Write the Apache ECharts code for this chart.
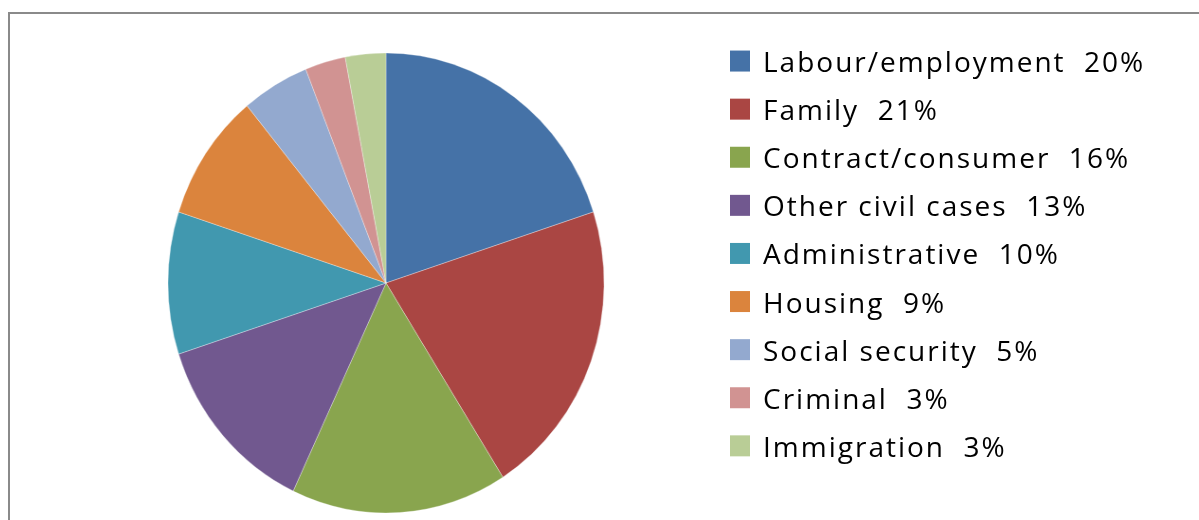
<!DOCTYPE html>
<html>
<head>
<meta charset="utf-8">
<script src="https://cdn.jsdelivr.net/npm/echarts@6/dist/echarts.min.js"></script>
<style>
  html, body { margin: 0; padding: 0; background: #ffffff; }
  #wrap { position: relative; width: 1199px; height: 520px; overflow: hidden; }
  #pie, #legend { position: absolute; left: 0; top: 0; width: 1199px; height: 520px; }
  /* the pie is drawn slightly narrower than tall */
  #pie { transform: scaleX(0.948); transform-origin: 386px 283px; }
  /* loose tracking on the legend labels */
  #legend svg text { letter-spacing: 2px; }
</style>
</head>
<body>
<div id="wrap">
  <div id="pie"></div>
  <div id="legend"></div>
</div>
<script>
// Share of cases by area of law (percent)
const categories = [
  'Labour/employment', 'Family', 'Contract/consumer', 'Other civil cases',
  'Administrative', 'Housing', 'Social security', 'Criminal', 'Immigration'
];
const shares = [20, 21, 16, 13, 10, 9, 5, 3, 3];
const palette = [
  '#4572A7', '#AA4643', '#89A54E', '#71588F', '#4198AF',
  '#DB843D', '#93A9CF', '#D19392', '#B9CD96'
];

const seriesData = categories.map((name, i) => ({ name: name, value: shares[i] }));
const legendNames = {};
categories.forEach((c, i) => { legendNames[c] = c + '  ' + shares[i] + '%'; });

// Pie slices
const pieChart = echarts.init(document.getElementById('pie'), null, { renderer: 'canvas' });
pieChart.setOption({
  animation: false,
  color: palette,
  series: [{
    type: 'pie',
    center: [386, 283],
    radius: [0, 230],
    startAngle: 90,
    clockwise: true,
    label: { show: false },
    labelLine: { show: false },
    silent: true,
    itemStyle: { borderColor: 'rgba(255,255,255,0.6)', borderWidth: 0.5 },
    data: seriesData
  }]
});

// Legend and frame
const legendChart = echarts.init(document.getElementById('legend'), null, { renderer: 'svg' });
legendChart.setOption({
  animation: false,
  color: palette,
  graphic: [{
    type: 'rect',
    shape: { x: 9, y: 13, width: 1400, height: 700 },
    style: { fill: 'none', stroke: '#8a8a8a', lineWidth: 2 },
    silent: true
  }],
  legend: {
    orient: 'vertical',
    left: 725,
    top: 32,
    icon: 'rect',
    itemWidth: 20,
    itemHeight: 21,
    itemGap: 0,
    selectedMode: false,
    formatter: name => legendNames[name],
    textStyle: {
      fontFamily: 'Open Sans',
      fontSize: 28,
      color: '#000000',
      lineHeight: 44.1,
      padding: [4, 0, 0, 8]
    },
    data: categories
  },
  series: [{
    type: 'pie',
    radius: [0, 0],
    center: [-100, -100],
    silent: true,
    label: { show: false },
    labelLine: { show: false },
    data: seriesData
  }]
});
</script>
</body>
</html>
